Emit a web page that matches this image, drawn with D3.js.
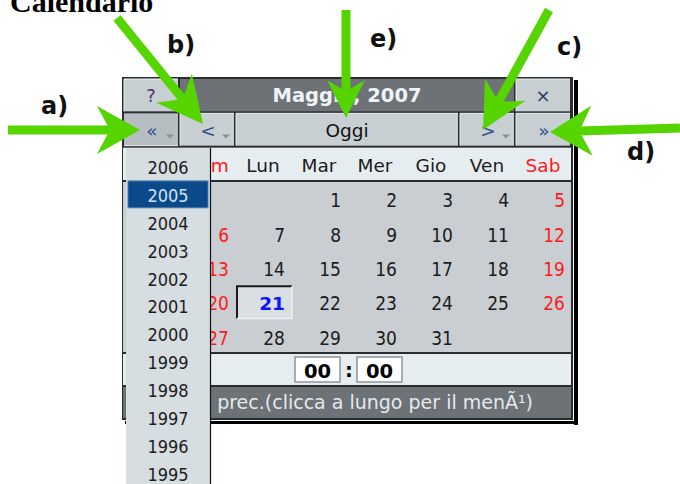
<!DOCTYPE html>
<html><head><meta charset="utf-8">
<script src="https://cdn.jsdelivr.net/npm/d3@7/dist/d3.min.js"></script>
<style>
body{margin:0;background:#fff}
svg{display:block}
.cond{font-family:"DejaVu Sans Condensed","DejaVu Sans",sans-serif;font-stretch:condensed}
.reg{font-family:"DejaVu Sans",sans-serif}
.bold{font-family:"DejaVu Sans",sans-serif;font-weight:bold}
</style>
</head><body>
<svg id="c" width="680" height="484"></svg>
<script>
// ---------- data ----------
const pageTitle = "Calendario";
const monthTitle = "Maggio, 2007";
const titleRow = ["?", monthTitle, "\u00d7"];
const titleSpans = [1, 6, 1];
const navRow = ["\u00ab", "<", "Oggi", ">", "\u00bb"];
const navSpans = [1, 1, 4, 1, 1];
const navMenu = [true, true, false, true, true];
const weekdays = ["", "Dom", "Lun", "Mar", "Mer", "Gio", "Ven", "Sab"];
const weekendCols = [1, 7];
const weeks = [
  [null, null, null, 1, 2, 3, 4, 5],
  [null, 6, 7, 8, 9, 10, 11, 12],
  [null, 13, 14, 15, 16, 17, 18, 19],
  [null, 20, 21, 22, 23, 24, 25, 26],
  [null, 27, 28, 29, 30, 31, null, null]
];
const today = 21;
const timeParts = ["00", "00"];
const statusText = "prec.(clicca a lungo per il men\u00c3\u00b9)";
const years = [2006, 2005, 2004, 2003, 2002, 2001, 2000, 1999, 1998, 1997, 1996, 1995];
const selectedYear = 2005;
const labels = ["a)", "b)", "c)", "d)", "e)"];

// ---------- layout ----------
const svg = d3.select("#c");
const x = d3.scaleBand().domain(d3.range(8)).range([123, 571]);
const yTop = d3.scaleBand().domain(["title", "nav", "head"]).range([78, 181]);
const yWeek = d3.scaleBand().domain(d3.range(weeks.length)).range([181, 353]);
const timeBand = [353, 386], statusBand = [386, 418];
const yYear = d3.scaleBand().domain(years).range([153, 153 + years.length * 27.9]);
const calL = 122, calR = 572, calT = 77, calB = 419;
const midX = (x(0) + x(7) + x.bandwidth()) / 2;

// page title (cut by the top edge as in the source screenshot)
svg.append("text").attr("x", 10).attr("y", 12)
  .attr("font-family", "'Liberation Serif',serif").attr("font-weight", "bold")
  .attr("font-size", 30).attr("fill", "#000").text(pageTitle);

// shadow
svg.append("rect").attr("x", calR + 2).attr("y", calT + 3).attr("width", 4).attr("height", calB - calT + 3).attr("fill", "#000");
svg.append("rect").attr("x", calL + 3).attr("y", calB + 2).attr("width", calR - calL + 3).attr("height", 3).attr("fill", "#000");
// calendar frame (dark acts as divider lines)
svg.append("rect").attr("x", calL).attr("y", calT).attr("width", calR - calL + 1).attr("height", calB - calT + 1).attr("fill", "#2a2c2e");

function spans(arr) { let s = 0; return arr.map(n => { const a = s; s += n; return [a, s - 1]; }); }

// title row
const tS = spans(titleSpans);
titleRow.forEach((lab, i) => {
  const x0 = x(tS[i][0]), x1 = x(tS[i][1]) + x.bandwidth();
  const y0 = yTop("title"), h = yTop.bandwidth();
  const isTitle = i === 1;
  svg.append("rect").attr("x", x0 + 1).attr("y", y0 + 1).attr("width", x1 - x0 - 2).attr("height", h - 2)
    .attr("fill", isTitle ? "#6c7275" : "#c8cfd3");
  if (!isTitle) {
    svg.append("path").attr("d", `M${x0 + 1},${y0 + h - 1}V${y0 + 1}H${x1 - 1}`).attr("stroke", "#eef2f5").attr("fill", "none");
  }
  svg.append("text").attr("x", (x0 + x1) / 2).attr("y", y0 + h / 2 + 7)
    .attr("text-anchor", "middle")
    .attr("class", isTitle ? "bold" : "reg")
    .attr("font-size", isTitle ? 19.5 : 18)
    .attr("fill", isTitle ? "#eef3f7" : (i === 0 ? "#4a3570" : "#2c3e60"))
    .text(lab);
});

// nav row
const nS = spans(navSpans);
navRow.forEach((lab, i) => {
  const x0 = x(nS[i][0]), x1 = x(nS[i][1]) + x.bandwidth();
  const y0 = yTop("nav"), h = yTop.bandwidth();
  const pressed = i === 0;
  svg.append("rect").attr("x", x0 + 1).attr("y", y0 + 1).attr("width", x1 - x0 - 2).attr("height", h - 2)
    .attr("fill", pressed ? "#b7bec2" : "#c8cfd3");
  svg.append("path").attr("d", pressed ? `M${x0 + 1},${y0 + h - 1}H${x1 - 1}` : `M${x0 + 1},${y0 + h - 1}V${y0 + 1}H${x1 - 1}`)
    .attr("stroke", "#eef2f5").attr("fill", "none");
  const cx = (x0 + x1) / 2;
  svg.append("text").attr("x", cx + (i === 2 ? 0 : 1)).attr("y", y0 + h / 2 + 7)
    .attr("text-anchor", "middle").attr("class", "reg").attr("font-size", 18.5)
    .attr("fill", i === 2 ? "#111" : "#34508f").text(lab);
  if (navMenu[i]) {
    const tx = x1 - 9, ty = y0 + h / 2 + 5;
    svg.append("path").attr("d", `M${tx - 4},${ty}L${tx + 4},${ty}L${tx},${ty + 4}Z`).attr("fill", "#8a9196");
  }
});

// header row
const hy = yTop("head");
svg.append("rect").attr("x", x(0)).attr("y", hy + 1).attr("width", x(7) + x.bandwidth() - x(0)).attr("height", yTop.bandwidth() - 2).attr("fill", "#e6edf1");
svg.selectAll("text.wd").data(weekdays).enter().append("text")
  .attr("class", "reg wd").attr("font-size", 18.5)
  .attr("x", (d, i) => x(i) + x.bandwidth() / 2)
  .attr("y", hy + yTop.bandwidth() / 2 + 8)
  .attr("text-anchor", "middle")
  .attr("fill", (d, i) => weekendCols.includes(i) ? "#ff1a1a" : "#1c1c1c")
  .text(d => d);

// days area
svg.append("rect").attr("x", x(0)).attr("y", yWeek(0) + 1).attr("width", x(7) + x.bandwidth() - x(0)).attr("height", yWeek.range()[1] - yWeek.range()[0] - 2).attr("fill", "#c8ced2");
weeks.forEach((wk, r) => {
  wk.forEach((d, c) => {
    if (d == null) return;
    const isToday = d === today;
    if (isToday) {
      const bx = x(c) + 2, by = yWeek(r) + 2, bw = x.bandwidth() - 1, bh = yWeek.bandwidth() - 2;
      svg.append("rect").attr("x", bx).attr("y", by).attr("width", bw).attr("height", bh).attr("fill", "#d9dfe3");
      svg.append("path").attr("d", `M${bx + bw},${by}H${bx}V${by + bh}`).attr("stroke", "#1a1a1a").attr("stroke-width", 2).attr("fill", "none");
      svg.append("path").attr("d", `M${bx},${by + bh}H${bx + bw}V${by}`).attr("stroke", "#eef2f5").attr("stroke-width", 1.5).attr("fill", "none");
    }
    svg.append("text")
      .attr("class", isToday ? "bold" : "cond")
      .attr("font-size", isToday ? 18.5 : 19)
      .attr("x", x(c) + x.bandwidth() - 6)
      .attr("y", yWeek(r) + yWeek.bandwidth() / 2 + 9)
      .attr("text-anchor", "end")
      .attr("fill", isToday ? "#0a14ff" : (weekendCols.includes(c) ? "#ff1a1a" : "#1c1c1c"))
      .text(d);
  });
});

// time row
svg.append("rect").attr("x", x(0)).attr("y", timeBand[0] + 1).attr("width", x(7) + x.bandwidth() - x(0)).attr("height", timeBand[1] - timeBand[0] - 2).attr("fill", "#e6edf1");
const boxW = 45;
timeParts.forEach((t, i) => {
  const bx = i === 0 ? midX - 52 : midX + 10;
  svg.append("rect").attr("x", bx).attr("y", timeBand[0] + 4).attr("width", boxW).attr("height", timeBand[1] - timeBand[0] - 8)
    .attr("fill", "#fff").attr("stroke", "#8d9499").attr("stroke-width", 1.5);
  svg.append("text").attr("class", "bold").attr("font-size", 19.5).attr("text-anchor", "middle")
    .attr("x", bx + boxW / 2).attr("y", (timeBand[0] + timeBand[1]) / 2 + 8).attr("fill", "#000").text(t);
});
svg.append("text").attr("class", "bold").attr("font-size", 19.5).attr("text-anchor", "middle")
  .attr("x", midX + 2).attr("y", (timeBand[0] + timeBand[1]) / 2 + 7).attr("fill", "#000").text(":");

// status bar (its start is hidden behind the open year menu)
svg.append("rect").attr("x", x(0)).attr("y", statusBand[0] + 1).attr("width", x(7) + x.bandwidth() - x(0)).attr("height", statusBand[1] - statusBand[0] - 1).attr("fill", "#6c7275");
svg.append("text").attr("class", "reg").attr("font-size", 19).attr("text-anchor", "end")
  .attr("x", 533).attr("y", (statusBand[0] + statusBand[1]) / 2 + 7).attr("fill", "#e4eaee").text(statusText);

// year dropdown
svg.append("rect").attr("x", 126).attr("y", 148).attr("width", 84).attr("height", 340).attr("fill", "#d7dee2");
svg.append("line").attr("x1", 210.5).attr("x2", 210.5).attr("y1", 148).attr("y2", 484).attr("stroke", "#111").attr("stroke-width", 1.2);
svg.append("rect").attr("x", 128).attr("y", yYear(selectedYear)).attr("width", 80).attr("height", yYear.bandwidth() - 1)
  .attr("fill", "#0b4a8a").attr("stroke", "#4f7bb0").attr("stroke-width", 1);
svg.selectAll("text.yr").data(years).enter().append("text")
  .attr("class", "cond yr").attr("font-size", 18).attr("text-anchor", "middle")
  .attr("x", 168).attr("y", d => yYear(d) + yYear.bandwidth() / 2 + 7)
  .attr("fill", d => d === selectedYear ? "#cfe2f6" : "#1d1d1d").text(d => d);

// annotation arrows
const arrows = [
  { from: [8, 130], to: [140, 130], len: 43, half: 24 },
  { from: [117, 18], to: [203, 124], len: 46, half: 23 },
  { from: [549, 10], to: [483, 130], len: 46, half: 23 },
  { from: [680, 128], to: [550, 132], len: 42, half: 25 },
  { from: [346, 10], to: [346, 118], len: 38, half: 19 }
];
const green = "#55d400";
arrows.forEach(a => {
  const [x1, y1] = a.from, [x2, y2] = a.to;
  const L = Math.hypot(x2 - x1, y2 - y1), ux = (x2 - x1) / L, uy = (y2 - y1) / L, px = -uy, py = ux;
  const bx = x2 - ux * a.len, by = y2 - uy * a.len;
  const nx = x2 - ux * a.len * 0.7, ny = y2 - uy * a.len * 0.7;
  svg.append("line").attr("x1", x1).attr("y1", y1).attr("x2", nx).attr("y2", ny)
    .attr("stroke", green).attr("stroke-width", 9);
  svg.append("path").attr("fill", green)
    .attr("d", `M${x2},${y2}L${bx + px * a.half},${by + py * a.half}L${nx},${ny}L${bx - px * a.half},${by - py * a.half}Z`);
});
const labelPos = [[41, 114], [167, 53], [557, 55], [627, 160], [370, 47]];
labels.forEach((t, i) => {
  svg.append("text").attr("x", labelPos[i][0]).attr("y", labelPos[i][1])
    .attr("font-family", "'DejaVu Sans',sans-serif").attr("font-weight", "bold").attr("font-size", 24)
    .attr("fill", "#111").text(t);
});
</script>
</body></html>
